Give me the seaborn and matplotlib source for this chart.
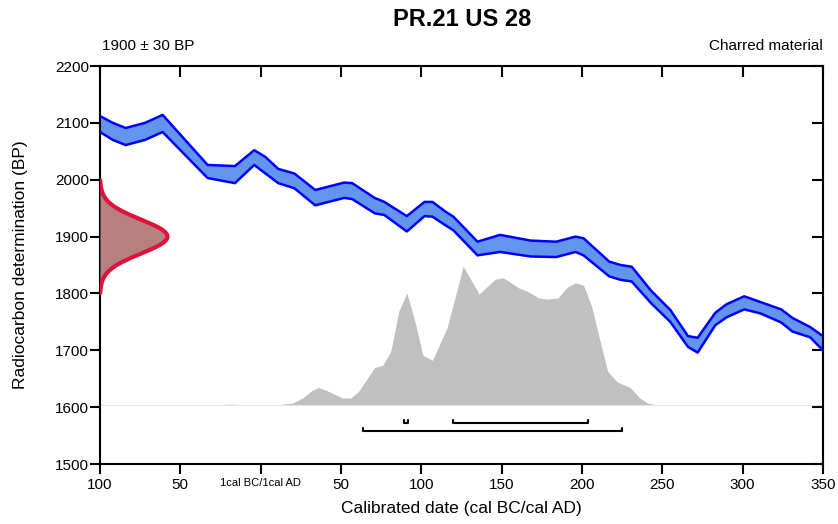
import numpy as np
import pandas as pd
import matplotlib
matplotlib.use("Agg")
import matplotlib.pyplot as plt
import seaborn as sns

# calibration curve band (cal BC/AD as negative/positive years, BP)
cal_years = [-100, -92, -84, -72, -61, -33, -16, -4, 3, 11, 21, 34, 52, 57, 71, 77, 91, 102,
             107, 115, 120, 135, 149, 168, 184, 196, 201, 217, 224, 231, 243, 255, 266, 272,
             283, 290, 301, 311, 324, 331, 342, 350]
cal_upper = [2112, 2100, 2091, 2100, 2114, 2026, 2024, 2052, 2040, 2019, 2011, 1982, 1995,
             1994, 1968, 1961, 1936, 1961, 1961, 1944, 1935, 1891, 1903, 1893, 1891, 1900,
             1897, 1856, 1850, 1847, 1805, 1771, 1725, 1722, 1766, 1781, 1795, 1785, 1772,
             1757, 1741, 1725]
cal_lower = [2084, 2070, 2061, 2070, 2084, 2003, 1994, 2026, 2011, 1994, 1985, 1955, 1968,
             1966, 1941, 1938, 1909, 1936, 1935, 1920, 1911, 1867, 1873, 1865, 1864, 1873,
             1867, 1830, 1824, 1821, 1783, 1750, 1706, 1696, 1744, 1758, 1772, 1765, 1749,
             1733, 1723, 1700]

# calibrated probability (relative)
prob_years = [-100, -30, -19, -8, 0, 10, 20, 26, 32, 36, 41, 51, 56, 61, 66, 71, 76, 81,
              86, 91, 96, 101, 107, 116, 124, 126, 136, 146, 151, 161, 166, 173, 178, 185,
              191, 196, 201, 206, 211, 216, 222, 230, 236, 241, 247, 255, 350]
prob_values = [0, 0, 0.01, 0, 0.002, 0.005, 0.017, 0.053, 0.108, 0.129, 0.108, 0.053,
               0.053, 0.101, 0.187, 0.273, 0.288, 0.388, 0.676, 0.808, 0.604, 0.360, 0.324,
               0.556, 0.906, 1.0, 0.80, 0.906, 0.916, 0.842, 0.820, 0.772, 0.763, 0.772,
               0.849, 0.880, 0.863, 0.712, 0.475, 0.245, 0.168, 0.129, 0.053, 0.017, 0.003,
               0, 0]

# radiocarbon determination
c14_mean = 1900
c14_sigma = 30

# calibrated ranges
ranges_68 = [(89, 92), (120, 204)]
ranges_95 = [(64, 225)]

x_ticks = [-100, -50, 0, 50, 100, 150, 200, 250, 300, 350]
x_ticklabels = ["100", "50", "1cal BC/1cal AD", "50", "100", "150", "200", "250", "300", "350"]
y_ticks = [1500, 1600, 1700, 1800, 1900, 2000, 2100, 2200]

sns.set_theme(style="ticks")
plt.rcParams['font.family'] = ['Liberation Sans', 'DejaVu Sans']
plt.rcParams['text.color'] = 'black'
plt.rcParams['axes.labelcolor'] = 'black'

fig = plt.figure(figsize=(8.38, 5.24), dpi=100)
ax = fig.add_axes([0.1193, 0.1145, 0.8627, 0.7595])

# grey calibrated distribution
prob_base = 1603
prob_scale = 245
prob = pd.DataFrame({'year': prob_years, 'p': prob_values})
ax.fill_between(prob['year'], prob_base, prob_base + prob['p'] * prob_scale,
                color='#c0c0c0', lw=0, zorder=1)
ax.axhline(prob_base, color='#e4e4e4', lw=0.8, zorder=1)

# calibration curve band
curve = pd.DataFrame({'year': cal_years, 'upper': cal_upper, 'lower': cal_lower})
ax.fill_between(curve['year'], curve['lower'], curve['upper'], color='#6495ed', lw=0, zorder=2)
sns.lineplot(data=curve, x='year', y='upper', color='#0000ff', lw=1.8, ax=ax, zorder=3)
sns.lineplot(data=curve, x='year', y='lower', color='#0000ff', lw=1.8, ax=ax, zorder=3)

# radiocarbon date gaussian on the y axis
bp = np.linspace(c14_mean - 3.3 * c14_sigma, c14_mean + 3.3 * c14_sigma, 300)
dens = np.exp(-0.5 * ((bp - c14_mean) / c14_sigma) ** 2)
gx = -100 + dens * 42
ax.fill_betweenx(bp, -100, gx, color='#b68080', lw=0, zorder=4)
ax.plot(gx, bp, color='#dc143c', lw=3, zorder=5, solid_capstyle='round')

# range brackets
for lvl, rng in [(1572, ranges_68), (1558, ranges_95)]:
    for s, e in rng:
        ax.plot([s, s, e, e], [lvl + 6, lvl, lvl, lvl + 6], color='black', lw=1.5, zorder=5)

ax.set_xlim(-100, 350)
ax.set_ylim(1500, 2200)
ax.set_xlabel("")
ax.set_ylabel("")
ax.set_xticks(x_ticks)
ax.set_xticklabels(x_ticklabels)
ax.set_yticks(y_ticks)
ax.tick_params(direction='out', length=7, width=1.5, colors='black', labelsize=11,
               top=False, right=False)
ax.tick_params(axis='x', pad=3)
ax.tick_params(axis='y', pad=1)
ax.get_xticklabels()[2].set_fontsize(8)
for sp in ax.spines.values():
    sp.set_visible(True)
    sp.set_linewidth(1.5)
    sp.set_color('black')

secx = ax.secondary_xaxis('top')
secx.set_xticks(x_ticks)
secx.tick_params(direction='in', length=8, width=1.5, colors='black', labeltop=False)
secy = ax.secondary_yaxis('right')
secy.set_yticks(y_ticks)
secy.tick_params(direction='in', length=8, width=1.5, colors='black', labelright=False)

fig.text(0.551, 0.962, "PR.21 US 28", fontsize=17, fontweight='bold', ha='center', va='center')
fig.text(0.1217, 0.912, "1900 ± 30 BP", fontsize=11, ha='left', va='center')
fig.text(0.982, 0.912, "Charred material", fontsize=11, ha='right', va='center')
fig.text(0.551, 0.03, "Calibrated date (cal BC/cal AD)", fontsize=12.5, ha='center', va='center')
fig.text(0.024, 0.494, "Radiocarbon determination (BP)", fontsize=12.5, rotation=90,
         ha='center', va='center')

fig.savefig("out.png", dpi=100)
